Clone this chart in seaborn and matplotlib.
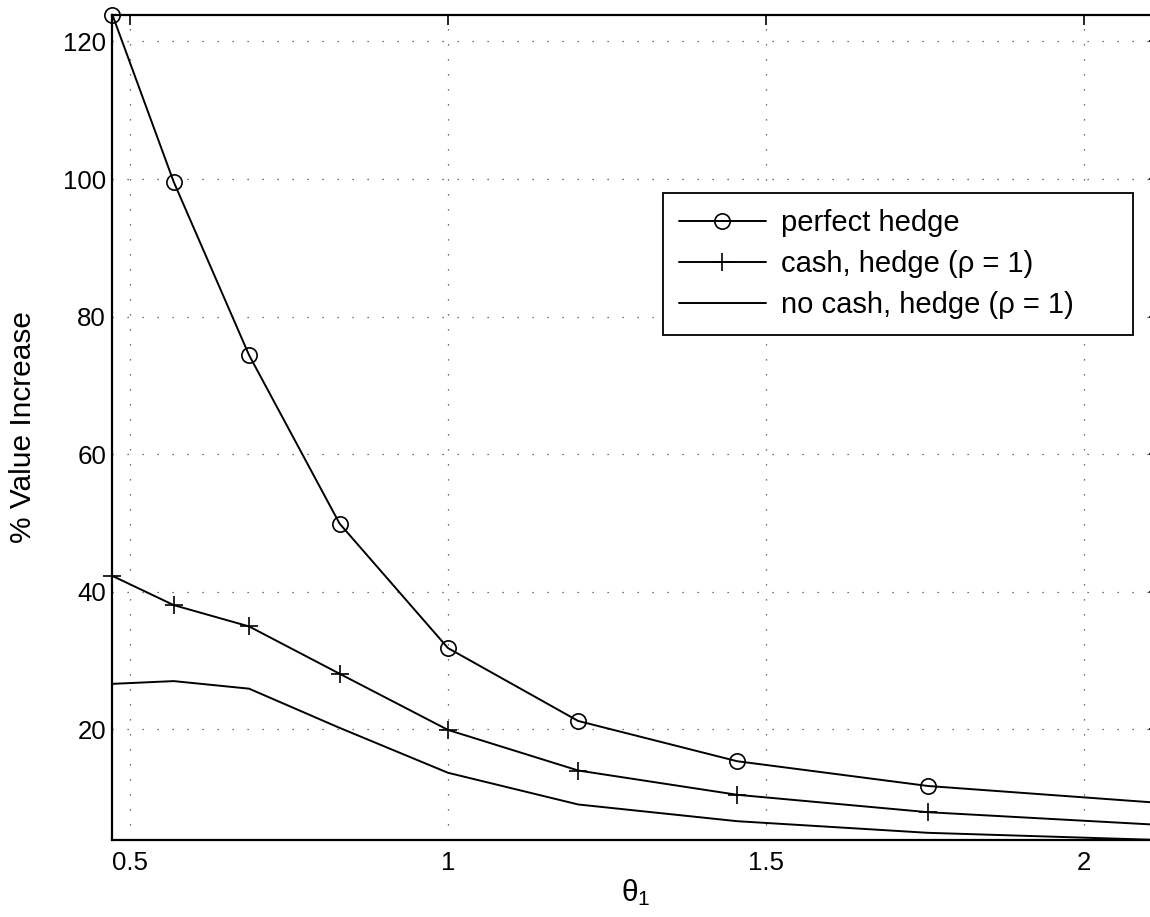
import numpy as np
import pandas as pd
import matplotlib
matplotlib.use("Agg")
import matplotlib.pyplot as plt
import seaborn as sns

# theta_1 grid (log-symmetric around 1)
theta = [0.4724, 0.5688, 0.6873, 0.8296, 1.0, 1.2047, 1.4545, 1.7545, 2.117]

# % value increase for each strategy
perfect_hedge = [123.9, 99.6, 74.4, 49.9, 31.8, 21.2, 15.35, 11.75, 9.3]
cash_hedge = [42.3, 38.05, 34.95, 28.07, 19.9, 14.0, 10.47, 7.94, 6.1]
no_cash_hedge = [26.6, 27.0, 25.9, 20.2, 13.67, 9.06, 6.63, 4.94, 3.9]

labels = ["perfect hedge", "cash, hedge (ρ = 1)", "no cash, hedge (ρ = 1)"]
x_ticks = [0.5, 1, 1.5, 2]
y_ticks = [20, 40, 60, 80, 100, 120]

df = pd.DataFrame({
    "theta": theta * 3,
    "value": perfect_hedge + cash_hedge + no_cash_hedge,
    "series": [labels[0]] * len(theta) + [labels[1]] * len(theta) + [labels[2]] * len(theta),
})

sns.set_style("white")
plt.rcParams["font.family"] = ["Liberation Sans", "DejaVu Sans"]
plt.rcParams["mathtext.default"] = "regular"
plt.rcParams["text.color"] = "black"
plt.rcParams["axes.labelcolor"] = "black"

fig = plt.figure(figsize=(11.5, 9.17), dpi=100)
ax = fig.add_axes([0.0977, 0.0840, 0.9098, 0.9000])

markers = {labels[0]: "o", labels[1]: "+", labels[2]: ""}
for lab in labels:
    sub = df[df["series"] == lab]
    mk = markers[lab]
    sns.lineplot(
        data=sub, x="theta", y="value", ax=ax, color="black", linewidth=1.4,
        marker=mk if mk else None, markersize=11 if mk == "o" else 13,
        markerfacecolor="none", markeredgecolor="black", markeredgewidth=1.2,
        label=lab, clip_on=False, estimator=None, sort=False,
    )

ax.set_xlim(min(theta), max(theta))
ax.set_ylim(min(no_cash_hedge), max(perfect_hedge))
ax.set_xticks(x_ticks)
ax.set_xticklabels(["0.5", "1", "1.5", "2"])
ax.set_yticks(y_ticks)

ax.grid(True, color="#444444", linestyle=(0, (1, 11)), linewidth=0.9)
for s in ax.spines.values():
    s.set_visible(True)
    s.set_color("black")
    s.set_linewidth(1.6)

ax.tick_params(axis="both", which="both", direction="in", length=7, width=1.2,
               top=True, right=True, labelsize=18.6, colors="black")
ax.tick_params(axis="x", pad=8)
ax.tick_params(axis="y", pad=4.5)

ax.set_xlabel(r"$\mathregular{θ_1}$", fontsize=21.5, color="black")
ax.set_ylabel("% Value Increase", fontsize=21.5, color="black")
ax.xaxis.set_label_coords(0.5, -0.045)
ax.yaxis.set_label_coords(-0.072, 0.5)

# legend box spans a fixed width; entries stay left-aligned inside it
leg = ax.legend(
    loc="upper left", bbox_to_anchor=(0.526, 0.0, 0.4498, 0.7843), mode="expand",
    borderaxespad=0, fontsize=21, frameon=True, fancybox=False, shadow=False,
    framealpha=1, edgecolor="black", handlelength=3.0, handletextpad=0.5,
    borderpad=0.55, labelspacing=0.45,
)
leg.get_frame().set_linewidth(1.3)
for t in leg.get_texts():
    t.set_color("black")

fig.savefig("out.png", dpi=100)
